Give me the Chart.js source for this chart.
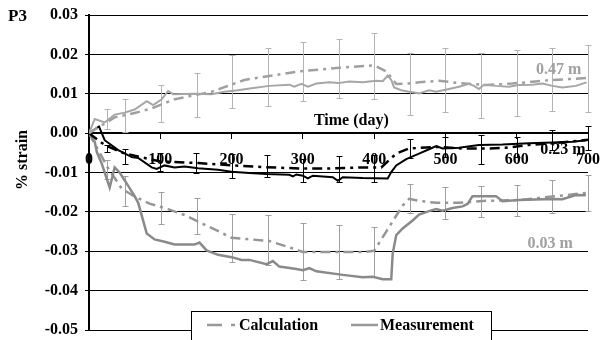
<!DOCTYPE html>
<html>
<head>
<meta charset="utf-8">
<title>P3 strain</title>
<script src="https://cdn.jsdelivr.net/npm/chart.js@4.4.1/dist/chart.umd.min.js"></script>
<style>
  html, body { margin: 0; padding: 0; background: #fff; }
  #wrap { width: 601px; height: 340px; }
</style>
</head>
<body>
<div id="wrap"><canvas id="chart-p3" width="601" height="340"></canvas></div>
<script>
"use strict";

// axis ticks
const DAY_TICKS = [0, 100, 200, 300, 400, 500, 600, 700];
const STRAIN_MIN = -0.05;
const STRAIN_MAX = 0.03;
const STRAIN_STEP = 0.01;

// [day, % strain]
const meas047 = [[0,0],[8,0.0036],[22,0.0027],[36,0.0047],[50,0.0052],[64,0.006],[81,0.0081],[90,0.0071],
  [102,0.0086],[111,0.0107],[118,0.0099],[148,0.0100],[172,0.0099],[190,0.0105],[209,0.0109],[228,0.0114],
  [253,0.0120],[281,0.0123],[288,0.0118],[298,0.0125],[307,0.0118],[319,0.0126],[337,0.0129],[350,0.0127],
  [365,0.0131],[384,0.0129],[403,0.0133],[412,0.0132],[419,0.0146],[424,0.0135],[428,0.0116],[438,0.0109],
  [449,0.0105],[463,0.0101],[477,0.0109],[487,0.0105],[505,0.0112],[519,0.0118],[533,0.0125],[540,0.0120],
  [547,0.0112],[554,0.0123],[571,0.0120],[589,0.0118],[603,0.0122],[622,0.0123],[636,0.0126],[650,0.0120],
  [664,0.0116],[683,0.0120],[698,0.0129]];
const calc047 = [[0,0],[36,0.004],[64,0.0051],[88,0.0063],[120,0.0086],[172,0.0105],[218,0.0135],[235,0.014],
  [295,0.0157],[351,0.0166],[400,0.0172],[417,0.0157],[431,0.0125],[449,0.0126],[463,0.0129],[491,0.0133],
  [519,0.0127],[557,0.0122],[594,0.0126],[650,0.0135],[700,0.014]];

const meas023 = [[0,0],[14,0.0017],[22,-0.0018],[41,-0.0043],[60,-0.0061],[69,-0.0063],[88,-0.0087],[95,-0.0091],
  [106,-0.0082],[120,-0.0087],[134,-0.0085],[153,-0.0089],[181,-0.0093],[200,-0.0098],[225,-0.0101],
  [249,-0.0104],[281,-0.0106],[286,-0.011],[291,-0.0105],[300,-0.0108],[307,-0.0115],[314,-0.0108],
  [342,-0.0112],[349,-0.0121],[356,-0.0112],[384,-0.0114],[419,-0.0115],[424,-0.0099],[431,-0.0082],
  [445,-0.0066],[463,-0.0052],[477,-0.0041],[487,-0.0033],[496,-0.0039],[519,-0.0037],[547,-0.003],
  [580,-0.0029],[617,-0.0026],[650,-0.0024],[678,-0.0022],[698,-0.0018]];
const calc023 = [[0,0],[22,-0.003],[50,-0.0052],[100,-0.0072],[153,-0.0076],[200,-0.0082],[267,-0.0088],
  [300,-0.009],[335,-0.009],[386,-0.0087],[410,-0.0087],[431,-0.0052],[449,-0.0039],[491,-0.0035],
  [524,-0.0039],[561,-0.0039],[585,-0.0037],[617,-0.003],[650,-0.0026],[700,-0.0017]];

const meas003 = [[0,0],[8,-0.0022],[11,-0.0048],[18,-0.0078],[29,-0.0138],[36,-0.0087],[43,-0.01],[55,-0.0134],
  [64,-0.016],[69,-0.0177],[81,-0.0255],[92,-0.027],[106,-0.0276],[120,-0.0283],[148,-0.0283],[155,-0.0278],
  [165,-0.0298],[181,-0.0309],[200,-0.0315],[214,-0.0322],[225,-0.0322],[249,-0.0333],[258,-0.0325],
  [267,-0.0339],[291,-0.0345],[300,-0.0348],[309,-0.0343],[319,-0.0351],[356,-0.036],[384,-0.0366],
  [398,-0.0365],[412,-0.0371],[424,-0.0371],[426,-0.0306],[431,-0.0259],[440,-0.0242],[454,-0.0222],
  [463,-0.0207],[477,-0.0198],[487,-0.0193],[496,-0.0197],[510,-0.019],[524,-0.0186],[531,-0.018],
  [538,-0.016],[571,-0.016],[580,-0.0173],[603,-0.017],[650,-0.0167],[664,-0.0168],[683,-0.0157],[697,-0.0158]];
const calc003 = [[0,0],[12,-0.004],[27,-0.009],[46,-0.0141],[64,-0.0161],[85,-0.0179],[111,-0.0193],
  [134,-0.0208],[158,-0.0229],[186,-0.0253],[200,-0.0266],[221,-0.0269],[253,-0.0274],[286,-0.0293],
  [300,-0.0302],[384,-0.0302],[400,-0.0299],[417,-0.025],[440,-0.0184],[449,-0.0167],[463,-0.0172],
  [487,-0.0177],[519,-0.0177],[557,-0.0172],[603,-0.017],[650,-0.0161],[697,-0.0152]];

// measurement scatter: [day, high, low]
const err047 = [[25,0.0062,0.001],[51,0.0087,0.0004],[101,0.0122,0.0027],[151,0.0152,0.0041],[200,0.0198,0.0063],
  [251,0.0217,0.0068],[300,0.0232,0.0081],[350,0.0238,0.0088],[400,0.0254,0.0086],[450,0.0204,0.0047],
  [500,0.0215,0.0053],[550,0.0204,0.0038],[600,0.0211,0.0043],[650,0.0217,0.0056],[700,0.0225,0.0053]];
const err023 = [[25,-0.003,-0.0048],[50,-0.0041,-0.0078],[100,-0.005,-0.0095],[150,-0.005,-0.01],
  [200,-0.0052,-0.0115],[250,-0.0055,-0.0112],[300,-0.0065,-0.0125],[350,-0.0058,-0.0124],
  [400,-0.0055,-0.0124],[450,-0.0015,-0.0064],[500,-0.001,-0.006],[550,-0.0005,-0.0078],
  [600,-0.001,-0.006],[650,0.0008,-0.0043],[700,0.0017,-0.0043]];
const err003 = [[25,-0.0069,-0.0117],[51,-0.011,-0.0186],[101,-0.0149,-0.0231],[151,-0.0164,-0.0255],
  [200,-0.0205,-0.0327],[251,-0.0208,-0.0336],[300,-0.0227,-0.0373],[350,-0.0233,-0.0371],
  [400,-0.0239,-0.0365],[450,-0.013,-0.0203],[500,-0.0138,-0.0218],[550,-0.0134,-0.0213],
  [600,-0.0131,-0.0211],[650,-0.0118,-0.0203],[700,-0.0106,-0.0197]];

// depth labels: [text, day, strain, colour]
const depthLabels = [["0.47 m", 627, 0.0161, "#a0a0a0"], ["0.23 m", 633, -0.0043, "#000"], ["0.03 m", 615, -0.0282, "#a0a0a0"]];

const SERIF = "'Liberation Serif', 'Times New Roman', serif";
const DASH = [10, 5, 3, 5];

function pts(arr) { return arr.map(([x, y]) => ({ x, y })); }

function line(label, arr, color, width, dashed) {
    return {
        label, data: pts(arr), borderColor: color, borderWidth: width,
        borderDash: dashed ? DASH : [], pointRadius: 0, tension: 0, fill: false,
    };
}

const errSets = [
    { data: err047, color: "#b4b4b4" },
    { data: err023, color: "#000" },
    { data: err003, color: "#a0a0a0" },
];

const errorBars = {
    id: "errorBars",
    beforeDatasetsDraw(chart) {
        const { ctx, scales: { x, y } } = chart;
        ctx.save();
        ctx.lineWidth = 1;
        for (const set of errSets) {
            ctx.strokeStyle = set.color;
            ctx.beginPath();
            for (const [d, hi, lo] of set.data) {
                const px = Math.round(x.getPixelForValue(d)) + 0.5;
                const top = Math.round(y.getPixelForValue(hi)) + 0.5;
                const bot = Math.round(y.getPixelForValue(lo)) + 0.5;
                ctx.moveTo(px, top); ctx.lineTo(px, bot);
                ctx.moveTo(px - 3, top); ctx.lineTo(px + 3, top);
                ctx.moveTo(px - 3, bot); ctx.lineTo(px + 3, bot);
            }
            ctx.stroke();
        }
        ctx.restore();
    },
};

// titles, depth labels and the boxed legend sitting on the bottom gridline
const decorations = {
    id: "decorations",
    afterDraw(chart) {
        const { ctx, scales: { x, y } } = chart;
        ctx.save();
        ctx.textBaseline = "middle";

        ctx.fillStyle = "#000";
        ctx.textAlign = "left";
        ctx.font = `bold 17px ${SERIF}`;
        ctx.fillText("P3", 8, 17);
        ctx.font = `bold 16px ${SERIF}`;

        ctx.textAlign = "center";
        ctx.fillText("Time (day)", x.getPixelForValue(368), y.getPixelForValue(0.0032));

        ctx.save();
        ctx.translate(23, 160);
        ctx.rotate(-Math.PI / 2);
        ctx.fillText("% strain", 0, 0);
        ctx.restore();

        ctx.textAlign = "left";
        for (const [txt, d, v, c] of depthLabels) {
            ctx.fillStyle = c;
            ctx.fillText(txt, x.getPixelForValue(d), y.getPixelForValue(v));
        }

        // legend
        ctx.fillStyle = "#fff";
        ctx.fillRect(191, 311, 300, 30);
        ctx.strokeStyle = "#000";
        ctx.lineWidth = 1;
        ctx.strokeRect(191.5, 311.5, 300, 30);

        ctx.strokeStyle = "#999";
        ctx.lineWidth = 2.5;
        ctx.setLineDash([15, 9, 4, 9]);
        ctx.beginPath(); ctx.moveTo(207, 325); ctx.lineTo(238, 325); ctx.stroke();
        ctx.setLineDash([]);
        ctx.beginPath(); ctx.moveTo(351, 325); ctx.lineTo(378, 325); ctx.stroke();

        ctx.fillStyle = "#000";
        ctx.fillText("Calculation", 239, 326);
        ctx.fillText("Measurement", 380, 326);
        ctx.restore();
    },
};

const tickFont = { family: SERIF, size: 16, weight: "bold" };

new Chart(document.getElementById("chart-p3"), {
    type: "line",
    data: {
        datasets: [
            line("Measurement 0.47 m", meas047, "#a6a6a6", 2, false),
            line("Calculation 0.47 m", calc047, "#a0a0a0", 2.5, true),
            line("Measurement 0.23 m", meas023, "#000", 2, false),
            line("Calculation 0.23 m", calc023, "#000", 2.5, true),
            line("Measurement 0.03 m", meas003, "#8a8a8a", 2.5, false),
            line("Calculation 0.03 m", calc003, "#969696", 2.5, true),
        ],
    },
    options: {
        responsive: false,
        animation: false,
        devicePixelRatio: 1,
        layout: { padding: { left: 10, top: 15, right: 13, bottom: 10 } },
        plugins: { legend: { display: false }, tooltip: { enabled: false } },
        scales: {
            x: {
                type: "linear", position: { y: 0 }, min: 0, max: 700,
                afterBuildTicks: s => { s.ticks = DAY_TICKS.map(v => ({ value: v })); },
                afterFit: s => { s.paddingLeft = 0; s.paddingRight = 0; },
                ticks: { color: "#000", font: tickFont, padding: 12, maxRotation: 0, autoSkip: false },
                grid: { drawOnChartArea: false, drawTicks: true, tickLength: 5, color: "#000", lineWidth: 1 },
                border: { display: true, color: "#000", width: 2 },
            },
            y: {
                min: STRAIN_MIN, max: STRAIN_MAX,
                afterFit: s => { s.width = 79; s.paddingTop = 0; s.paddingBottom = 0; },
                ticks: { stepSize: STRAIN_STEP, color: "#000", font: tickFont, padding: 7,
                    callback: v => v.toFixed(2) },
                grid: { color: "#000", lineWidth: 1, tickLength: 4 },
                border: { color: "#000", width: 2 },
            },
        },
    },
    plugins: [errorBars, decorations],
});
</script>
</body>
</html>
